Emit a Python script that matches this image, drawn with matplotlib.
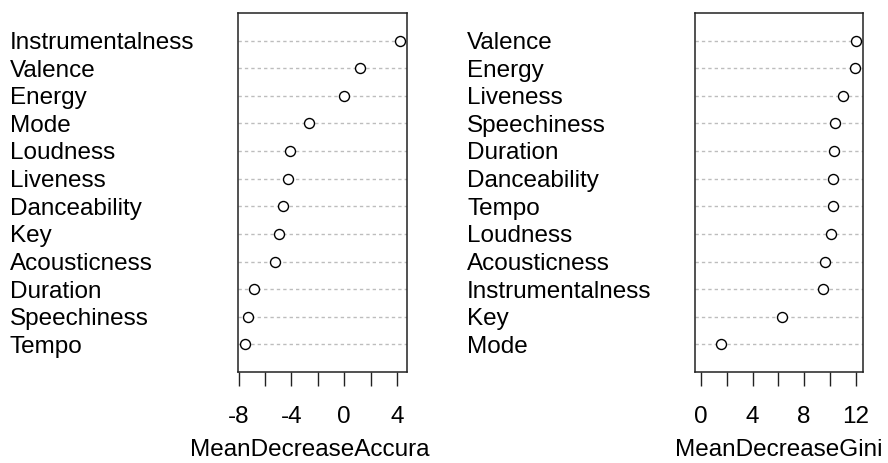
import matplotlib
matplotlib.use("Agg")
import matplotlib.pyplot as plt
from matplotlib import transforms
import numpy as np

plt.rcParams['font.family'] = ['Liberation Sans', 'DejaVu Sans']

# accuracy panel, top to bottom
acc_names = ["Instrumentalness", "Valence", "Energy", "Mode", "Loudness", "Liveness",
             "Danceability", "Key", "Acousticness", "Duration", "Speechiness", "Tempo"]
acc_vals = [4.2, 1.2, 0.0, -2.67, -4.14, -4.27, -4.62, -4.97, -5.22, -6.82, -7.27, -7.52]

# gini panel, top to bottom
gini_names = ["Valence", "Energy", "Liveness", "Speechiness", "Duration", "Danceability",
              "Tempo", "Loudness", "Acousticness", "Instrumentalness", "Key", "Mode"]
gini_vals = [12.07, 11.94, 11.06, 10.44, 10.34, 10.21, 10.21, 10.10, 9.59, 9.46, 6.26, 1.53]

acc_ticks = [-8, -6, -4, -2, 0, 2, 4]
acc_ticklabels = ["-8", "", "-4", "", "0", "", "4"]
gini_ticks = [0, 2, 4, 6, 8, 10, 12]
gini_ticklabels = ["0", "", "4", "", "8", "", "12"]

W, H = 888, 464
fig = plt.figure(figsize=(W / 100, H / 100), dpi=100)

fs = 17.5


def panel(left_px, right_px, label_px, names, vals, xlim, ticks, ticklabels, xlabel, xlabel_px):
    ax = fig.add_axes([left_px / W, (H - 373) / H, (right_px - left_px) / W, (373 - 14) / H])
    n = len(names)
    y = np.arange(n, 0, -1)
    ax.set_xlim(*xlim)
    ax.set_ylim(0, n + 1)
    ax.hlines(y, xlim[0], xlim[1], colors="#bdbdbd", linestyles=(0, (2.4, 2.2)), linewidth=1.0)
    ax.plot(vals, y, "o", mfc="white", mec="black", ms=7.2, mew=1.0, clip_on=False)
    ax.set_yticks([])
    ax.set_xticks(ticks)
    ax.set_xticklabels(ticklabels, fontsize=fs)
    ax.tick_params(axis="x", length=10, width=1.0, pad=14, color="#222222")
    for s in ax.spines.values():
        s.set_linewidth(1.1)
        s.set_color("#222222")
    tr = transforms.blended_transform_factory(fig.transFigure, ax.transData)
    for name, yy in zip(names, y):
        ax.text(label_px / W, yy - 0.05, name, transform=tr, ha="left", va="center",
                fontsize=fs, clip_on=False)
    fig.text(xlabel_px / W, 1 - 450 / H, xlabel, ha="center", va="center", fontsize=fs)
    return ax


panel(238, 407, 10, acc_names, acc_vals, (-8.05, 4.75), acc_ticks, acc_ticklabels,
      "MeanDecreaseAccura", 310)
panel(695, 863, 467, gini_names, gini_vals, (-0.49, 12.58), gini_ticks, gini_ticklabels,
      "MeanDecreaseGini", 779)

fig.savefig("out.png", dpi=100)
